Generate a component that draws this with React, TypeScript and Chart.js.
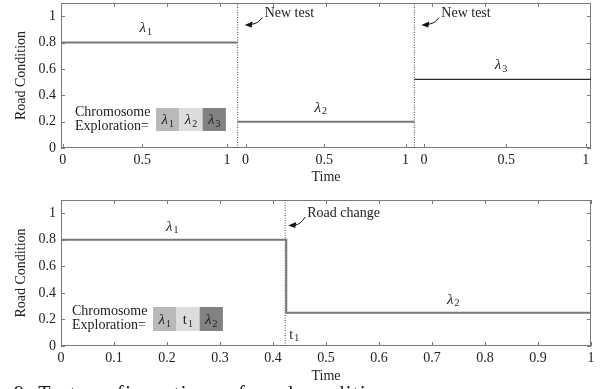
import React, { useEffect, useRef } from "react";
import { Chart, registerables } from "chart.js";

Chart.register(...registerables);

const SERIF = "'Liberation Serif', 'Times New Roman', serif";
const TEXT = "#222222";
const FRAME = "#7a7a7a";

// ---------- shared y axis ----------
const yTicks = [0, 0.2, 0.4, 0.6, 0.8, 1];
const yTickLabels = ["0", "0.2", "0.4", "0.6", "0.8", "1"];

// ---------- top chart (three concatenated tests) ----------
const topSegmentStarts = [0, 1, 2];
const topSegmentEnds = [1, 2, 3];
const topLevels = [0.8, 0.2, 0.52];
const topLevelNames = ["λ1", "λ2", "λ3"];
const topLabelX = [0.48, 1.47, 2.49];
const topBoundaries = [1, 2];
const topXTickValues = [0.01, 0.46, 0.94, 1.045, 1.49, 1.95, 2.055, 2.52, 2.97];
const topXTickLabels = ["0", "0.5", "1", "0", "0.5", "1", "0", "0.5", "1"];
const topEdgeTicks = [0.3, 0.6, 0.9, 1.2, 1.5, 1.8, 2.1, 2.4, 2.7];
const topChromosomeGenes = ["λ1", "λ2", "λ3"];

// ---------- bottom chart (road change inside one test) ----------
const bottomTimes = [0, 0.425, 0.425, 1];
const bottomValues = [0.8, 0.8, 0.25, 0.25];
const roadChangeTime = 0.425;
const bottomLevelNames = ["λ1", "λ2"];
const bottomLevelValues = [0.8, 0.25];
const bottomLabelX = [0.21, 0.74];
const bottomXTicks = [0, 0.1, 0.2, 0.3, 0.4, 0.5, 0.6, 0.7, 0.8, 0.9, 1];
const bottomXTickLabels = ["0", "0.1", "0.2", "0.3", "0.4", "0.5", "0.6", "0.7", "0.8", "0.9", "1"];
const bottomChromosomeGenes = ["λ1", "t1", "λ2"];

const geneShades = ["#b9b9b9", "#dcdcdc", "#828282"];

function drawGene(ctx: CanvasRenderingContext2D, label: string, cx: number, cy: number, size: number) {
  const main = label[0];
  const sub = label.slice(1);
  const mainFont = main === "λ" ? `italic ${size}px ${SERIF}` : `${size}px ${SERIF}`;
  const subFont = `${Math.round(size * 0.68)}px ${SERIF}`;
  ctx.font = mainFont;
  const w1 = ctx.measureText(main).width;
  ctx.font = subFont;
  const w2 = ctx.measureText(sub).width;
  const total = w1 + w2 + 1;
  const x = cx - total / 2;
  const baseline = cy + size * 0.33;
  ctx.textAlign = "left";
  ctx.textBaseline = "alphabetic";
  ctx.font = mainFont;
  ctx.fillText(main, x, baseline);
  ctx.font = subFont;
  ctx.fillText(sub, x + w1 + 1, baseline + size * 0.18);
}

function drawNote(
  ctx: CanvasRenderingContext2D,
  text: string,
  textX: number,
  textY: number,
  tipX: number,
  tipY: number
) {
  ctx.fillStyle = TEXT;
  ctx.font = `14px ${SERIF}`;
  ctx.textAlign = "left";
  ctx.textBaseline = "middle";
  ctx.fillText(text, textX, textY);
  const sx = textX - 2;
  const sy = textY + 4;
  ctx.strokeStyle = "#111";
  ctx.lineWidth = 1;
  ctx.beginPath();
  ctx.moveTo(sx, sy);
  ctx.quadraticCurveTo(sx - 5, tipY - 1, tipX + 7, tipY - 0.5);
  ctx.stroke();
  ctx.fillStyle = "#111";
  ctx.beginPath();
  ctx.moveTo(tipX, tipY);
  ctx.lineTo(tipX + 8, tipY - 3.5);
  ctx.lineTo(tipX + 7, tipY + 2.5);
  ctx.closePath();
  ctx.fill();
}

function drawChromosome(
  ctx: CanvasRenderingContext2D,
  textX: number,
  boxX: number,
  boxY: number,
  boxH: number,
  genes: string[]
) {
  ctx.fillStyle = TEXT;
  ctx.font = `14px ${SERIF}`;
  ctx.textAlign = "left";
  ctx.textBaseline = "middle";
  ctx.fillText("Chromosome", textX, boxY + 4.5);
  ctx.fillText("Exploration=", textX, boxY + 18);
  const w = 23.3;
  genes.forEach((g, i) => {
    ctx.fillStyle = geneShades[i];
    ctx.fillRect(boxX + i * w, boxY, w, boxH);
    ctx.fillStyle = TEXT;
    drawGene(ctx, g, boxX + i * w + w / 2, boxY + boxH / 2, 15);
  });
}

function framePlugin(bottomTicks: number[], topTicks: number[]) {
  return {
    id: "frame",
    beforeDatasetsDraw(chart: any) {
      const { ctx, chartArea, scales } = chart;
      const { left, right, top, bottom } = chartArea;
      const x = scales.x;
      const y = scales.y;
      ctx.save();
      ctx.strokeStyle = FRAME;
      ctx.lineWidth = 1;
      ctx.strokeRect(Math.round(left) + 0.5, Math.round(top) + 0.5, Math.round(right - left) - 1, Math.round(bottom - top) - 1);
      ctx.beginPath();
      bottomTicks.forEach((v) => {
        const px = Math.round(x.getPixelForValue(v)) + 0.5;
        ctx.moveTo(px, bottom);
        ctx.lineTo(px, bottom - 4);
      });
      topTicks.forEach((v) => {
        const px = Math.round(x.getPixelForValue(v)) + 0.5;
        ctx.moveTo(px, top);
        ctx.lineTo(px, top + 4);
      });
      yTicks.forEach((v) => {
        const py = Math.round(y.getPixelForValue(v)) + 0.5;
        ctx.moveTo(left, py);
        ctx.lineTo(left + 4, py);
        ctx.moveTo(right, py);
        ctx.lineTo(right - 4, py);
      });
      ctx.stroke();
      ctx.restore();
    },
  };
}

function yScale() {
  return {
    type: "linear",
    min: 0,
    max: 1.1,
    afterBuildTicks: (s: any) => {
      s.ticks = yTicks.map((v) => ({ value: v }));
    },
    afterFit: (s: any) => {
      s.width = 61;
      s.paddingTop = 0;
      s.paddingBottom = 0;
    },
    grid: { display: false, drawTicks: false },
    border: { display: false },
    ticks: {
      padding: 5,
      color: TEXT,
      autoSkip: false,
      font: { family: SERIF, size: 14, lineHeight: 1 },
      callback: (_v: any, i: number) => yTickLabels[i],
    },
    title: {
      display: true,
      text: "Road Condition",
      color: TEXT,
      font: { family: SERIF, size: 14, lineHeight: 1.2 },
      padding: { top: 13, bottom: 0 },
    },
  };
}

function xScale(min: number, max: number, values: number[], labels: string[], tickPad: number, titlePad: number, height: number) {
  return {
    type: "linear",
    min,
    max,
    afterBuildTicks: (s: any) => {
      s.ticks = values.map((v) => ({ value: v }));
    },
    afterFit: (s: any) => {
      s.height = height;
      s.paddingLeft = 0;
      s.paddingRight = 0;
    },
    grid: { display: false, drawTicks: false },
    border: { display: false },
    ticks: {
      padding: tickPad,
      color: TEXT,
      autoSkip: false,
      maxRotation: 0,
      font: { family: SERIF, size: 14, lineHeight: 1 },
      callback: (_v: any, i: number) => labels[i],
    },
    title: {
      display: true,
      text: "Time",
      color: TEXT,
      font: { family: SERIF, size: 14, lineHeight: 1 },
      padding: { top: 0, bottom: titlePad },
    },
  };
}

const lineDefaults = { pointRadius: 0, fill: false, tension: 0 };

export default function App() {
  const topRef = useRef<HTMLCanvasElement>(null);
  const bottomRef = useRef<HTMLCanvasElement>(null);

  useEffect(() => {
    const topAnnotations = {
      id: "topAnnotations",
      afterDatasetsDraw(chart: any) {
        const { ctx, chartArea, scales } = chart;
        const x = scales.x;
        const y = scales.y;
        ctx.save();
        ctx.fillStyle = TEXT;
        topLevelNames.forEach((name, i) => {
          drawGene(ctx, name, x.getPixelForValue(topLabelX[i]), y.getPixelForValue(topLevels[i]) - 15, 15);
        });
        topBoundaries.forEach((b) => {
          const lx = x.getPixelForValue(b);
          drawNote(ctx, "New test", lx + 27, chartArea.top + 10.5, lx + 7, chartArea.top + 22);
        });
        drawChromosome(ctx, chartArea.left + 14, chartArea.left + 95, chartArea.bottom - 40, 23, topChromosomeGenes);
        ctx.restore();
      },
    };

    const bottomAnnotations = {
      id: "bottomAnnotations",
      afterDatasetsDraw(chart: any) {
        const { ctx, chartArea, scales } = chart;
        const x = scales.x;
        const y = scales.y;
        ctx.save();
        ctx.fillStyle = TEXT;
        bottomLevelNames.forEach((name, i) => {
          drawGene(ctx, name, x.getPixelForValue(bottomLabelX[i]), y.getPixelForValue(bottomLevelValues[i]) - 14, 15);
        });
        const lx = x.getPixelForValue(roadChangeTime);
        drawNote(ctx, "Road change", lx + 21, chartArea.top + 13, lx + 2, chartArea.top + 25.5);
        ctx.fillStyle = TEXT;
        drawGene(ctx, "t1", lx + 8, chartArea.bottom - 12, 14);
        drawChromosome(ctx, chartArea.left + 11, chartArea.left + 92, chartArea.bottom - 39, 24, bottomChromosomeGenes);
        ctx.restore();
      },
    };

    const topChart = new Chart(topRef.current as HTMLCanvasElement, {
      type: "line",
      data: {
        datasets: [
          ...topLevels.map((lvl, i) => ({
            ...lineDefaults,
            data: [
              { x: topSegmentStarts[i], y: lvl },
              { x: topSegmentEnds[i], y: lvl },
            ],
            borderColor: i === 2 ? "#2a2a2a" : "#777777",
            borderWidth: i === 2 ? 1.2 : 2,
          })),
          ...topBoundaries.map((b) => ({
            ...lineDefaults,
            data: [
              { x: b, y: 0 },
              { x: b, y: 1.1 },
            ],
            borderColor: "#444444",
            borderWidth: 1,
            borderDash: [1, 1.5],
          })),
        ],
      } as any,
      options: {
        responsive: false,
        animation: false,
        devicePixelRatio: 1,
        layout: { padding: { top: 3, right: 11, bottom: 0, left: 0 } },
        plugins: { legend: { display: false }, tooltip: { enabled: false } },
        scales: {
          x: xScale(0, 3, topXTickValues, topXTickLabels, 5, 6, 42),
          y: yScale(),
        } as any,
      },
      plugins: [framePlugin(topXTickValues, topEdgeTicks), topAnnotations],
    });

    const bottomChart = new Chart(bottomRef.current as HTMLCanvasElement, {
      type: "line",
      data: {
        datasets: [
          {
            ...lineDefaults,
            data: bottomTimes.map((t, i) => ({ x: t, y: bottomValues[i] })),
            borderColor: "#777777",
            borderWidth: 2,
          },
          {
            ...lineDefaults,
            data: [
              { x: roadChangeTime - 0.002, y: 0 },
              { x: roadChangeTime - 0.002, y: 1.1 },
            ],
            borderColor: "#444444",
            borderWidth: 1,
            borderDash: [1, 1.5],
          },
        ],
      } as any,
      options: {
        responsive: false,
        animation: false,
        devicePixelRatio: 1,
        layout: { padding: { top: 10, right: 11, bottom: 0, left: 0 } },
        plugins: { legend: { display: false }, tooltip: { enabled: false } },
        scales: {
          x: xScale(0, 1, bottomXTicks, bottomXTickLabels, 5, 6, 43),
          y: yScale(),
        } as any,
      },
      plugins: [framePlugin(bottomXTicks, bottomXTicks), bottomAnnotations],
    });

    return () => {
      topChart.destroy();
      bottomChart.destroy();
    };
  }, []);

  return (
    <div
      style={{
        position: "absolute",
        left: 0,
        top: 0,
        width: 602,
        height: 389,
        overflow: "hidden",
        background: "#ffffff",
      }}
    >
      <canvas ref={topRef} width={602} height={190} style={{ position: "absolute", left: 0, top: 0, display: "block" }} />
      <canvas ref={bottomRef} width={602} height={199} style={{ position: "absolute", left: 0, top: 190, display: "block" }} />
      <div
        style={{
          position: "absolute",
          left: 14,
          top: 383,
          fontFamily: SERIF,
          fontSize: 20,
          lineHeight: "20px",
          letterSpacing: 1.5,
          whiteSpace: "nowrap",
          color: "#111",
        }}
      >
        9. Test configurations of road conditions
      </div>
    </div>
  );
}
